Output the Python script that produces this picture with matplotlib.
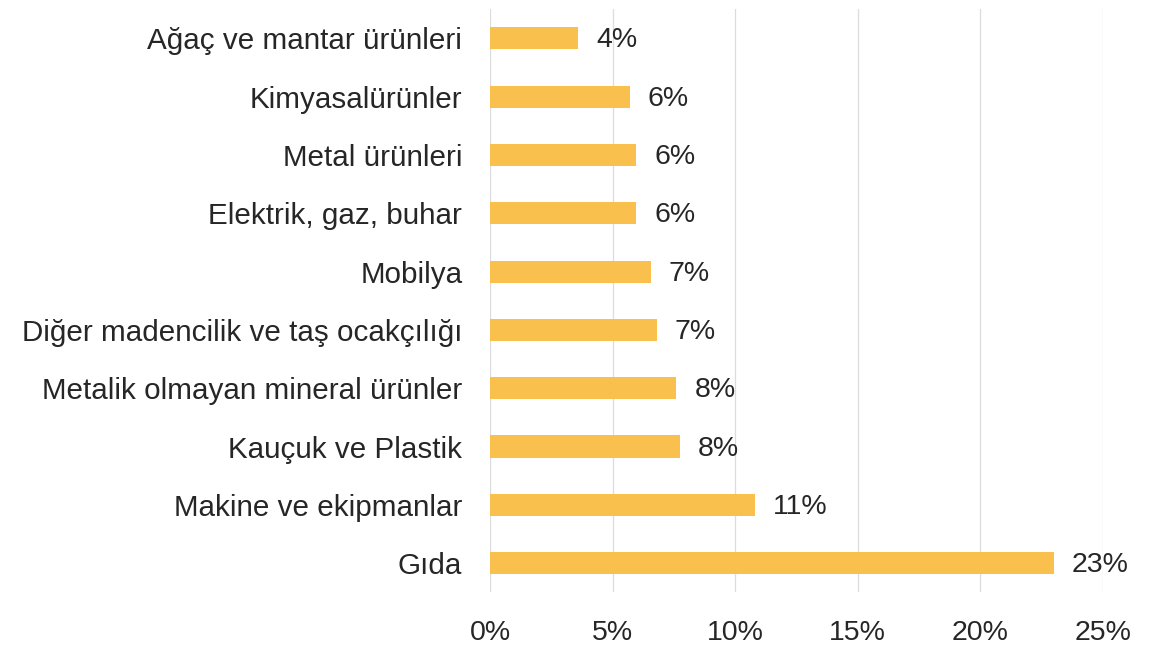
import matplotlib
matplotlib.use("Agg")
import matplotlib.pyplot as plt
from matplotlib.ticker import FuncFormatter

categories = [
    "Ağaç ve mantar ürünleri",
    "Kimyasalürünler",
    "Metal ürünleri",
    "Elektrik, gaz, buhar",
    "Mobilya",
    "Diğer madencilik ve taş ocakçılığı",
    "Metalik olmayan mineral ürünler",
    "Kauçuk ve Plastik",
    "Makine ve ekipmanlar",
    "Gıda",
]
values = [3.6, 5.7, 5.95, 5.95, 6.55, 6.8, 7.6, 7.75, 10.8, 23.0]
xticks = [0, 5, 10, 15, 20, 25]

plt.rcParams['font.family'] = ['Liberation Sans', 'DejaVu Sans']

fig = plt.figure(figsize=(11.56, 6.61), dpi=100)
ax = fig.add_axes([0.424, 0.104, 0.530, 0.882])

y = list(range(len(categories)))
ax.barh(y, values, height=0.38, color='#F9C04D', zorder=2)
for yi, v in zip(y, values):
    ax.annotate(f"{v:.0f}%", (v, yi), xytext=(13, -1.5), textcoords='offset points',
                va='center', ha='left', fontsize=20.5, color='#262626')

ax.set_yticks(y)
ax.set_yticklabels(categories, fontsize=21.3, color='#262626')
ax.set_ylim(len(categories) - 0.5, -0.5)
ax.set_xlim(0, 25)
ax.set_xticks(xticks)
ax.xaxis.set_major_formatter(FuncFormatter(lambda v, p: f"{v:.0f}%"))
ax.tick_params(axis='x', labelsize=20.5, colors='#262626', length=0, pad=20)
ax.tick_params(axis='y', length=0, pad=20)
ax.grid(axis='x', color='#dcdcdc', lw=0.9, zorder=0)
for s in ax.spines.values():
    s.set_visible(False)

fig.savefig("out.png", dpi=100, facecolor='white')
